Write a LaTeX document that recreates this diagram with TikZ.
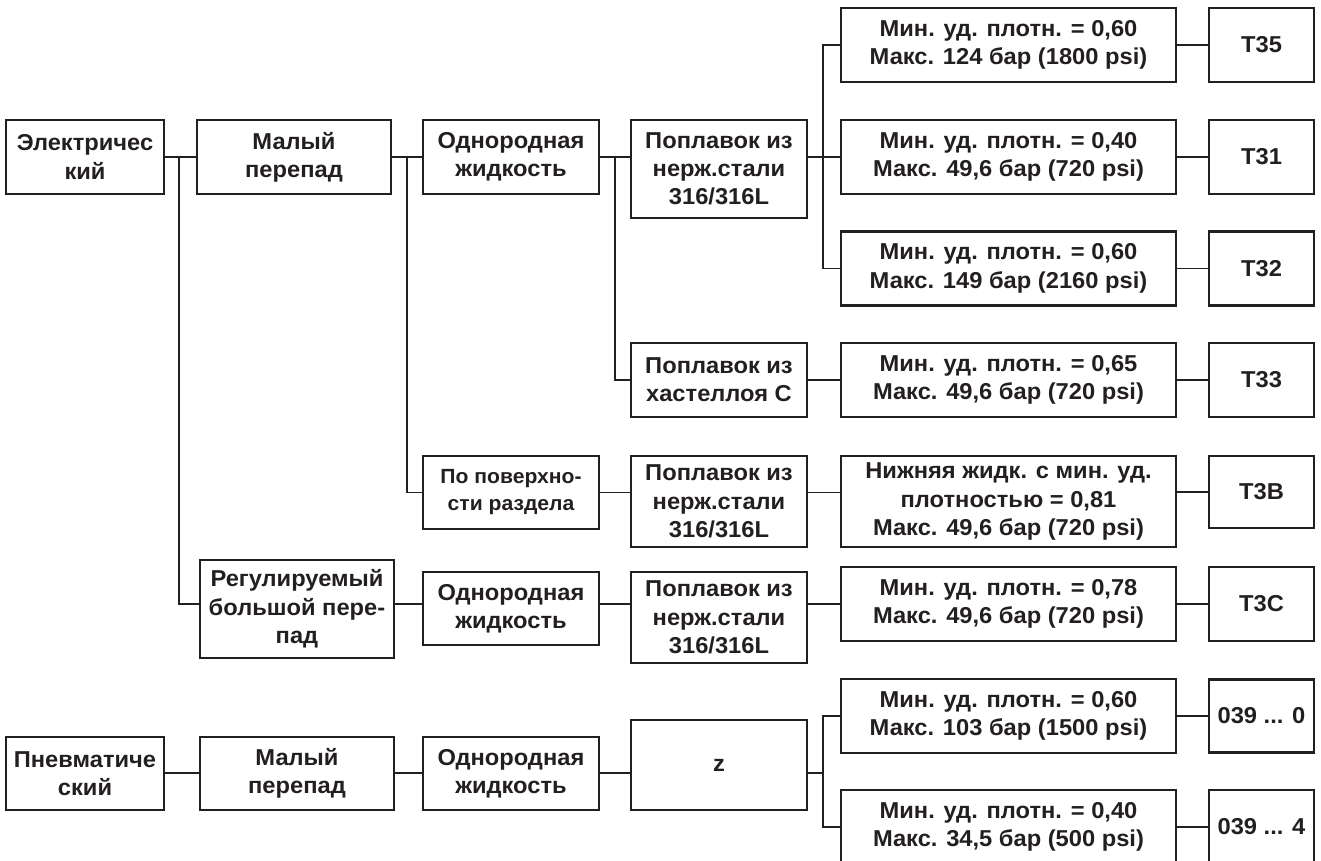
\documentclass[tikz,border=0pt]{standalone}
\usepackage{fontspec}
\setmainfont{Liberation Sans}[FakeStretch=1.03]
\definecolor{ink}{HTML}{231F20}
\tikzset{
  box/.style={draw=ink, line width=2.8pt, align=center, inner sep=0pt, text=ink,
    font=\bfseries\fontsize{23}{28.3}\selectfont, anchor=center},
  sz/.style 2 args={minimum width=#1pt, minimum height=#2pt},
  wire/.style={draw=ink, line width=1.4pt},
}
\begin{document}
\begin{tikzpicture}[x=1pt,y=-1pt]
\useasboundingbox (0,0) rectangle (1321,861);
% column 1-3 top
\node[box, sz={158}{74}] (el) at (85,157) {Электричес\\кий};
\node[box, sz={194}{74}] (m1) at (294,157) {Малый\\перепад};
\node[box, sz={176}{74}] (o1) at (511,157) {Однородная\\жидкость};
\node[box, sz={176}{98}] (p1) at (719,169) {Поплавок из\\нерж.стали\\316/316L};
\node[box, sz={335}{74}] (a1) at (1008.5,45) {Мин. уд. плотн. = 0,60\\Макс. 124 бар (1800 psi)};
\node[box, sz={335}{74}] (a2) at (1008.5,157) {Мин. уд. плотн. = 0,40\\Макс. 49,6 бар (720 psi)};
\node[box, sz={335}{74}] (a3) at (1008.5,268.5) {Мин. уд. плотн. = 0,60\\Макс. 149 бар (2160 psi)};
\node[box, sz={176}{74}] (p2) at (719,380) {Поплавок из\\хастеллоя С};
\node[box, sz={335}{74}] (a4) at (1008.5,380) {Мин. уд. плотн. = 0,65\\Макс. 49,6 бар (720 psi)};
\node[box, sz={105}{74}] (t35) at (1261.5,45) {T35};
\node[box, sz={105}{74}] (t31) at (1261.5,157) {T31};
\node[box, sz={105}{74}] (t32) at (1261.5,268.5) {T32};
\node[box, sz={105}{74}] (t33) at (1261.5,380) {T33};
% interface
\node[box, sz={176}{73}, font=\bfseries\fontsize{20.5}{27}\selectfont] (s1) at (511,492.5) {По поверхно-\\сти раздела};
\node[box, sz={176}{91}] (p3) at (719,501.5) {Поплавок из\\нерж.стали\\316/316L};
\node[box, sz={335}{91}] (b1) at (1008.5,501.5) {Нижняя жидк. с мин. уд.\\плотностью = 0,81\\Макс. 49,6 бар (720 psi)};
\node[box, sz={105}{72}] (t3b) at (1261.5,492) {T3B};
% adjustable
\node[box, sz={194}{98}] (r1) at (297,609) {Регулируемый\\большой пере-\\пад};
\node[box, sz={176}{73}] (o2) at (511,608.5) {Однородная\\жидкость};
\node[box, sz={176}{91}] (p4) at (719,617.5) {Поплавок из\\нерж.стали\\316/316L};
\node[box, sz={335}{74}] (a5) at (1008.5,604) {Мин. уд. плотн. = 0,78\\Макс. 49,6 бар (720 psi)};
\node[box, sz={105}{74}] (t3c) at (1261.5,604) {T3C};
% pneumatic
\node[box, sz={158}{73}] (pn) at (85,773.5) {Пневматиче\\ский};
\node[box, sz={194}{73}] (m2) at (297,773.5) {Малый\\перепад};
\node[box, sz={176}{73}] (o3) at (511,773.5) {Однородная\\жидкость};
\node[box, sz={176}{90}] (z) at (719,765) {z};
\node[box, sz={335}{74}] (a6) at (1008.5,716) {Мин. уд. плотн. = 0,60\\Макс. 103 бар (1500 psi)};
\node[box, sz={335}{74}] (a7) at (1008.5,827) {Мин. уд. плотн. = 0,40\\Макс. 34,5 бар (500 psi)};
\node[box, sz={105}{73}] (t0) at (1261.5,716) {039 ... 0};
\node[box, sz={105}{74}] (t4) at (1261.5,827) {039 ... 4};
% junctions
\coordinate (hA) at (0,604);
\coordinate (hP) at (0,773);
\coordinate (j1) at (179,157);
\coordinate (j2) at (407,157);
\coordinate (j3) at (615,157);
\coordinate (j4) at (823,157);
\coordinate (j5) at (823,773);
% connectors
\draw[wire] (el.east) -- (m1.west);
\draw[wire] (m1.east) -- (o1.west);
\draw[wire] (o1.east) -- (p1.west |- o1.east);
\draw[wire] (p1.east |- a2.west) -- (a2.west);
\draw[wire] (j1) |- (r1.west |- hA);
\draw[wire] (j2) |- (s1.west);
\draw[wire] (j3) |- (p2.west);
\draw[wire] (a1.west) -| (j4) |- (a3.west);
\draw[wire] (a1.east) -- (t35.west);
\draw[wire] (a2.east) -- (t31.west);
\draw[wire] (a3.east) -- (t32.west);
\draw[wire] (p2.east) -- (a4.west);
\draw[wire] (a4.east) -- (t33.west);
\draw[wire] (s1.east) -- (p3.west |- s1.east);
\draw[wire] (p3.east |- s1.east) -- (b1.west |- s1.east);
\draw[wire] (b1.east |- t3b.west) -- (t3b.west);
\draw[wire] (r1.east |- hA) -- (o2.west |- hA);
\draw[wire] (o2.east |- hA) -- (p4.west |- hA);
\draw[wire] (p4.east |- hA) -- (a5.west |- hA);
\draw[wire] (a5.east) -- (t3c.west);
\draw[wire] (pn.east |- hP) -- (m2.west |- hP);
\draw[wire] (m2.east |- hP) -- (o3.west |- hP);
\draw[wire] (o3.east |- hP) -- (z.west |- hP);
\draw[wire] (z.east |- hP) -- (j5);
\draw[wire] (a6.west) -| (j5) |- (a7.west);
\draw[wire] (a6.east) -- (t0.west);
\draw[wire] (a7.east) -- (t4.west);
\end{tikzpicture}
\end{document}
